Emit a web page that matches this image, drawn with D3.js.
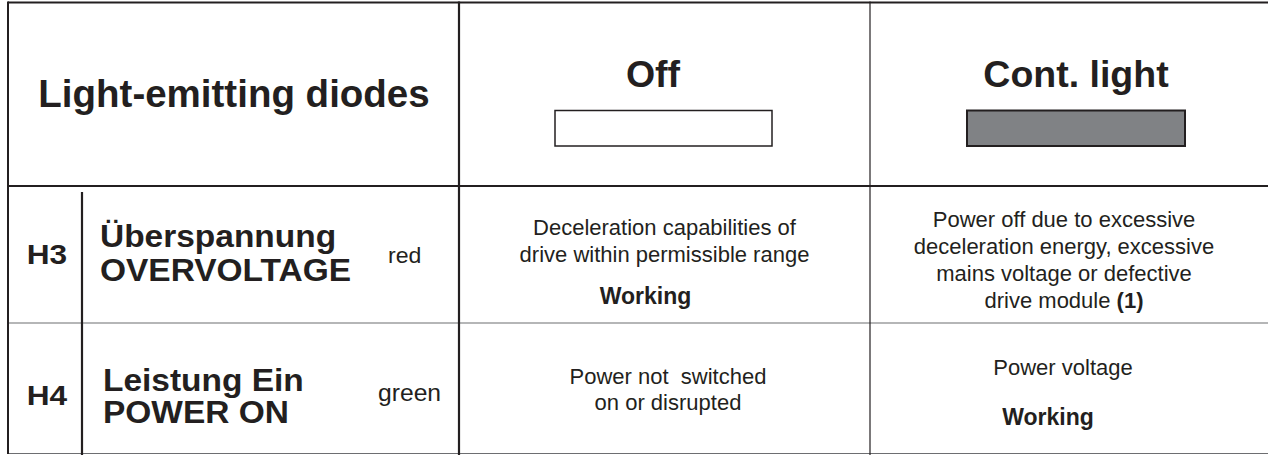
<!DOCTYPE html>
<html>
<head>
<meta charset="utf-8">
<script src="https://cdn.jsdelivr.net/npm/d3@7"></script>
<style>
  html, body { margin: 0; padding: 0; background: #fff; }
  svg { display: block; font-family: "Liberation Sans", Arial, Helvetica, sans-serif; }
  text { white-space: pre; }
</style>
</head>
<body>
<svg id="chart" width="1268" height="455"></svg>
<script>
// ---- data ----
const headerTitle = "Light-emitting diodes";
const states = ["Off", "Cont. light"];
const stateFill = ["#ffffff", "#808285"];
const ledIds = ["H3", "H4"];
const ledNamesDe = ["Überspannung", "Leistung Ein"];
const ledNamesEn = ["OVERVOLTAGE", "POWER ON"];
const ledColors = ["red", "green"];
const offText = [
  ["Deceleration capabilities of", "drive within permissible range"],
  ["Power not  switched", "on or disrupted"]
];
const offStatus = ["Working", ""];
const onText = [
  ["Power off due to excessive", "deceleration energy, excessive", "mains voltage or defective", "drive module"],
  ["Power voltage"]
];
const onNote = ["(1)", ""];
const onStatus = ["", "Working"];

// ---- layout ----
const ink = "#231f20", thin = "#6d6e71";
const svg = d3.select("#chart");

const x = d3.scaleOrdinal().domain(["left", "off", "on", "end"]).range([8, 459, 870, 1268]);
const rowY = d3.scaleOrdinal().domain(["top", "hdr", "r0", "r1"]).range([2.5, 186, 323, 453.5]);

function stext(sel, tx, ty, sx) {
  return sel.attr("transform", (d, i) => `translate(${tx(d, i)},${ty(d, i)}) scale(${sx},1)`);
}

// header texts
svg.append("text").attr("x", 234).attr("y", 107).attr("text-anchor", "middle")
  .attr("font-size", 38.5).attr("font-weight", "bold").attr("fill", ink).text(headerTitle);

const colCenters = [653, 1076];
svg.selectAll("text.state").data(states).join("text").attr("class", "state")
  .attr("x", (d, i) => colCenters[i]).attr("y", 87).attr("text-anchor", "middle")
  .attr("font-size", 37.5).attr("font-weight", "bold").attr("fill", ink).text(d => d);

const boxX = [555, 967], boxW = [217, 218];
svg.selectAll("rect.state").data(stateFill).join("rect").attr("class", "state")
  .attr("x", (d, i) => boxX[i]).attr("y", 110.5).attr("width", (d, i) => boxW[i]).attr("height", 35.5)
  .attr("fill", d => d).attr("stroke", ink).attr("stroke-width", (d, i) => i ? 2 : 1.5);

// rows
const idBase = [264, 405];
const deBase = [247, 391];
const enBase = [281, 423];
const colBase = [263, 401];
const colX = [388, 378];

stext(svg.selectAll("text.id").data(ledIds).join("text").attr("class", "id"),
  () => 47, (d, i) => idBase[i], 1.15)
  .attr("text-anchor", "middle").attr("font-size", 27.5).attr("font-weight", "bold").attr("fill", ink).text(d => d);
stext(svg.selectAll("text.de").data(ledNamesDe).join("text").attr("class", "de"),
  (d, i) => i ? 103 : 100, (d, i) => deBase[i], 1.08)
  .attr("font-size", 31).attr("font-weight", "bold").attr("fill", ink).text(d => d);
stext(svg.selectAll("text.en").data(ledNamesEn).join("text").attr("class", "en"),
  (d, i) => i ? 103 : 100, (d, i) => enBase[i], 1.08)
  .attr("font-size", 31).attr("font-weight", "bold").attr("fill", ink).text(d => d);
stext(svg.selectAll("text.col").data(ledColors).join("text").attr("class", "col"),
  (d, i) => colX[i], (d, i) => colBase[i], 1.05)
  .attr("font-size", (d, i) => i ? 23.5 : 22).attr("fill", ink).text(d => d);

// description cells
const fs = 22;
const offFirst = [235, 384], offStep = [27, 26];
const offCx = [664.5, 668];
offText.forEach((lines, r) => {
  svg.append("g").selectAll("text").data(lines).join("text")
    .attr("x", offCx[r]).attr("y", (d, i) => offFirst[r] + i * offStep[r])
    .attr("text-anchor", "middle").attr("font-size", fs).attr("fill", ink).text(d => d);
});
svg.append("text").attr("x", 645.5).attr("y", 304).attr("text-anchor", "middle")
  .attr("font-size", 23).attr("font-weight", "bold").attr("fill", ink).text(offStatus[0]);

const onFirst = [227, 375], onStep = 27;
const onCx = [1064, 1063];
onText.forEach((lines, r) => {
  const t = svg.append("g").selectAll("text").data(lines).join("text")
    .attr("x", onCx[r]).attr("y", (d, i) => onFirst[r] + i * onStep)
    .attr("text-anchor", "middle").attr("font-size", fs).attr("fill", ink);
  t.each(function (d, i) {
    const s = d3.select(this);
    s.append("tspan").text(d);
    if (i === lines.length - 1 && onNote[r]) {
      s.append("tspan").text(" ");
      s.append("tspan").attr("font-weight", "bold").text(onNote[r]);
    }
  });
});
svg.append("text").attr("x", 1048).attr("y", 425).attr("text-anchor", "middle")
  .attr("font-size", 23).attr("font-weight", "bold").attr("fill", ink).text(onStatus[1]);

// grid lines
const g = svg.append("g").attr("fill", "none");
g.append("line").attr("x1", x("left")).attr("x2", x("end")).attr("y1", rowY("top")).attr("y2", rowY("top"))
  .attr("stroke", ink).attr("stroke-width", 2.2);
g.append("line").attr("x1", x("left")).attr("x2", x("end")).attr("y1", rowY("hdr")).attr("y2", rowY("hdr"))
  .attr("stroke", ink).attr("stroke-width", 2.2);
g.append("line").attr("x1", x("left")).attr("x2", x("end")).attr("y1", rowY("r0")).attr("y2", rowY("r0"))
  .attr("stroke", thin).attr("stroke-width", 1.2);
g.append("line").attr("x1", x("left")).attr("x2", x("end")).attr("y1", rowY("r1")).attr("y2", rowY("r1"))
  .attr("stroke", thin).attr("stroke-width", 1.2);
g.append("line").attr("x1", x("left")).attr("x2", x("left")).attr("y1", 1.5).attr("y2", 454)
  .attr("stroke", ink).attr("stroke-width", 2);
g.append("line").attr("x1", x("off")).attr("x2", x("off")).attr("y1", 1.5).attr("y2", 455)
  .attr("stroke", ink).attr("stroke-width", 2.2);
g.append("line").attr("x1", x("on")).attr("x2", x("on")).attr("y1", 1.5).attr("y2", 455)
  .attr("stroke", ink).attr("stroke-width", 1.2);
g.append("line").attr("x1", 82).attr("x2", 82).attr("y1", 192).attr("y2", 455)
  .attr("stroke", ink).attr("stroke-width", 2.2);
</script>
</body>
</html>
